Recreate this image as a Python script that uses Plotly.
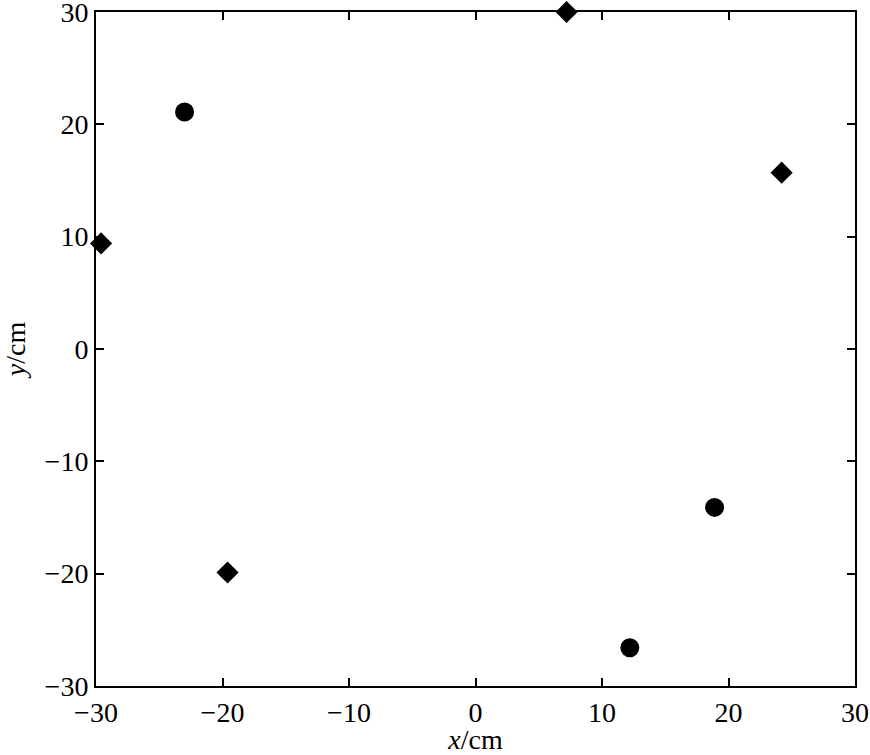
import plotly.graph_objects as go

circle_x = [-23.0, 18.9, 12.2]
circle_y = [21.1, -14.1, -26.6]
diamond_x = [-29.6, 7.2, 24.2, -19.6]
diamond_y = [9.4, 30.0, 15.7, -19.9]
ticks = [-30, -20, -10, 0, 10, 20, 30]

font = dict(family="Liberation Serif, Times New Roman, serif", size=28, color="black")

fig = go.Figure()
fig.add_trace(go.Scatter(x=circle_x, y=circle_y, mode="markers",
                         marker=dict(symbol="circle", size=19, color="black"),
                         cliponaxis=False, showlegend=False))
fig.add_trace(go.Scatter(x=diamond_x, y=diamond_y, mode="markers",
                         marker=dict(symbol="diamond", size=17, color="black"),
                         cliponaxis=False, showlegend=False))

axis_common = dict(showline=True, linecolor="black", linewidth=2, mirror="ticks",
                   ticks="inside", ticklen=8, tickwidth=2, tickcolor="black",
                   showgrid=False, zeroline=False, tickvals=ticks, tickfont=font,
                   automargin=False, ticklabeloverflow="allow")
fig.update_xaxes(range=[-30, 30], title=dict(text="<i>x</i>/cm", font=font, standoff=8), **axis_common)
fig.update_yaxes(range=[-30, 30], title=dict(text="<i>y</i>/cm", font=font, standoff=14), **axis_common)

fig.update_layout(width=870, height=755, margin=dict(l=96, r=15, t=12, b=69),
                  plot_bgcolor="white", paper_bgcolor="white", font=font)
fig.write_html("out.html", config={"displayModeBar": False},
               post_script="document.body.style.margin='0px';")
